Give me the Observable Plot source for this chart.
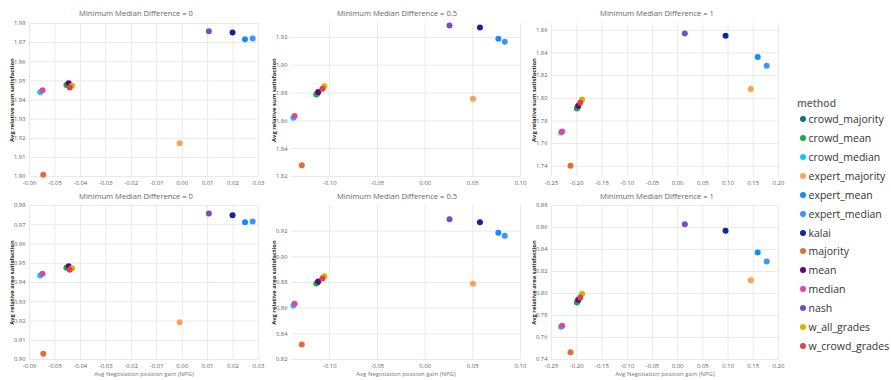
<!DOCTYPE html>
<html><head><meta charset="utf-8">
<script src="https://cdn.jsdelivr.net/npm/d3@7"></script>
<script src="https://cdn.jsdelivr.net/npm/@observablehq/plot@0.6"></script>
<style>
html,body{margin:0;padding:0;background:#fff;}
#chart{position:relative;width:891px;height:380px;font-family:"Open Sans",sans-serif;overflow:hidden;background:#fff;}
#chart svg{position:absolute;}
.ptitle{position:absolute;font-size:7.6px;color:#666;white-space:nowrap;transform:translateX(-50%);line-height:10px;}
g[aria-label="y-axis label"] text, g[aria-label="y-axis label"]{fill:#252423;font-weight:700;}
g[aria-label="x-axis label"] text, g[aria-label="x-axis label"]{fill:#777;}
.legend{position:absolute;left:797px;top:96px;font-family:"Open Sans",sans-serif;}
.legend .ltitle{font-size:10.3px;font-weight:600;color:#666;line-height:14px;height:14px;}
.legend .item{display:flex;align-items:center;height:18.87px;font-size:10.5px;color:#333;white-space:nowrap;}
.legend .sw{width:6px;height:6px;border-radius:50%;margin-left:3px;margin-right:2.5px;flex:none;}
</style></head>
<body>
<div id="chart"></div>
<script>
// ---------- data ----------
const methods = ["crowd_majority","crowd_mean","crowd_median","expert_majority","expert_mean","expert_median","kalai","majority","mean","median","nash","w_all_grades","w_crowd_grades"];
const methodColors = ["#197278","#1AAB40","#15C6F4","#FFA058","#118DFF","#4092FF","#12239E","#E66C37","#6B007B","#E044A7","#744EC2","#D9B300","#D64550"];
const panelTitles = ["Minimum Median Difference = 0","Minimum Median Difference = 0.5","Minimum Median Difference = 1"];
const legendTitle = "method";
const xAxisTitle = "Avg Negotiation position gain (NPG)";
const yAxisTitles = ["Avg relative sum satisfaction","Avg relative area satisfaction"];

// Avg Negotiation position gain per method, by Minimum Median Difference
const npgMMD0  = [-0.0450,-0.0455,-0.0558,-0.0010,0.0247,0.0277,0.0198,-0.0546,-0.0446,-0.0549,0.0105,-0.0433,-0.0442];
const npgMMD05 = [-0.1130,-0.1140,-0.1380,0.0502,0.0768,0.0835,0.0575,-0.1292,-0.1120,-0.1368,0.0256,-0.1056,-0.1076];
const npgMMD1  = [-0.1980,-0.1997,-0.2310,0.1450,0.1588,0.1766,0.0950,-0.2123,-0.1970,-0.2290,0.0143,-0.1893,-0.1930];
// Avg relative sum satisfaction
const sumSatMMD0  = [1.9478,1.9479,1.9441,1.9174,1.9718,1.9722,1.9753,1.9009,1.9488,1.9451,1.9760,1.9474,1.9465];
const sumSatMMD05 = [1.8797,1.8790,1.8623,1.8759,1.9191,1.9169,1.9271,1.8280,1.8807,1.8635,1.9286,1.8848,1.8830];
const sumSatMMD1  = [1.7920,1.7910,1.7698,1.8081,1.8364,1.8288,1.8553,1.7404,1.7934,1.7707,1.8571,1.7990,1.7961];
// Avg relative area satisfaction
const areaSatMMD0  = [0.9478,0.9476,0.9436,0.9194,0.9713,0.9717,0.9750,0.9030,0.9485,0.9445,0.9758,0.9474,0.9466];
const areaSatMMD05 = [0.8799,0.8792,0.8621,0.8790,0.9187,0.9164,0.9270,0.8317,0.8808,0.8634,0.9293,0.8849,0.8831];
const areaSatMMD1  = [0.7930,0.7918,0.7697,0.8121,0.8373,0.8291,0.8570,0.7466,0.7943,0.7706,0.8630,0.7997,0.7964];

// axis domains and tick values
const xDomMMD0 = [-0.06, 0.03],  xTicksMMD0 = [-0.06,-0.05,-0.04,-0.03,-0.02,-0.01,0,0.01,0.02,0.03];
const xDomMMD05 = [-0.14, 0.10], xTicksMMD05 = [-0.10,-0.05,0,0.05,0.10];
const xDomMMD1 = [-0.25, 0.20],  xTicksMMD1 = [-0.25,-0.20,-0.15,-0.10,-0.05,0,0.05,0.10,0.15,0.20];
const yDomSum0 = [1.90, 1.98],   yTicksSum0 = [1.90,1.91,1.92,1.93,1.94,1.95,1.96,1.97,1.98];
const yDomSum05 = [1.82, 1.93],  yTicksSum05 = [1.82,1.84,1.86,1.88,1.90,1.92];
const yDomSum1 = [1.731, 1.866], yTicksSum1 = [1.74,1.76,1.78,1.80,1.82,1.84,1.86];
const yDomArea0 = [0.90, 0.98],  yTicksArea0 = [0.90,0.91,0.92,0.93,0.94,0.95,0.96,0.97,0.98];
const yDomArea05 = [0.82, 0.94], yTicksArea05 = [0.82,0.84,0.86,0.88,0.90,0.92];
const yDomArea1 = [0.74, 0.88],  yTicksArea1 = [0.74,0.76,0.78,0.80,0.82,0.84,0.86,0.88];

// ---------- layout ----------
const chart = document.getElementById("chart");
const plotLeft = [29, 291, 551], plotRight = [258, 520, 778];
const plotTop = [23, 205], plotBottom = [176, 359];
const titleCenterX = [136, 397, 657], titleTopY = [8.3, 190.7];

const cols = [
  {x: npgMMD0, xDom: xDomMMD0, xTicks: xTicksMMD0},
  {x: npgMMD05, xDom: xDomMMD05, xTicks: xTicksMMD05},
  {x: npgMMD1, xDom: xDomMMD1, xTicks: xTicksMMD1}
];
const rowsCfg = [
  [{y: sumSatMMD0, yDom: yDomSum0, yTicks: yTicksSum0},{y: sumSatMMD05, yDom: yDomSum05, yTicks: yTicksSum05},{y: sumSatMMD1, yDom: yDomSum1, yTicks: yTicksSum1}],
  [{y: areaSatMMD0, yDom: yDomArea0, yTicks: yTicksArea0},{y: areaSatMMD05, yDom: yDomArea05, yTicks: yTicksArea05},{y: areaSatMMD1, yDom: yDomArea1, yTicks: yTicksArea1}]
];
const fmt = d => (Math.abs(d) < 1e-9 ? 0 : d).toFixed(2);

for (let r = 0; r < 2; r++) {
  for (let c = 0; c < 3; c++) {
    const cc = cols[c], rc = rowsCfg[r][c];
    const data = methods.map((m, i) => ({method: m, npg: cc.x[i], sat: rc.y[i]}));
    const ml = 29, mr = 6, mt = 4, mb = r ? 21 : 12;
    const L = plotLeft[c], R = plotRight[c], T = plotTop[r], B = plotBottom[r];
    const svg = Plot.plot({
      width: R - L + ml + mr,
      height: B - T + mt + mb,
      marginLeft: ml, marginRight: mr, marginTop: mt, marginBottom: mb,
      style: {background: "transparent", overflow: "visible", color: "#5f5f5f", fontFamily: "Open Sans, sans-serif"},
      x: {domain: cc.xDom},
      y: {domain: rc.yDom},
      color: {domain: methods, range: methodColors},
      marks: [
        Plot.gridX({ticks: cc.xTicks, stroke: "#e9e9e9", strokeOpacity: 1}),
        Plot.gridY({ticks: rc.yTicks, stroke: "#e9e9e9", strokeOpacity: 1}),
        Plot.axisX({ticks: cc.xTicks, tickSize: 0, tickPadding: 4, tickFormat: fmt, fontSize: 6,
          label: r ? xAxisTitle : null, labelAnchor: "center", labelOffset: 16.5, labelArrow: "none"}),
        Plot.axisY({ticks: rc.yTicks, tickSize: 0, tickPadding: 4, tickFormat: fmt, fontSize: 5.8,
          label: yAxisTitles[r], labelAnchor: "center", labelOffset: 20, labelArrow: "none"}),
        Plot.dot(data, {x: "npg", y: "sat", fill: "method", r: 3})
      ]
    });
    svg.style.left = (L - ml) + "px";
    svg.style.top = (T - mt) + "px";
    chart.appendChild(svg);
  }
  for (let c = 0; c < 3; c++) {
    const t = document.createElement("div");
    t.className = "ptitle";
    t.textContent = panelTitles[c];
    t.style.left = titleCenterX[c] + "px";
    t.style.top = titleTopY[r] + "px";
    chart.appendChild(t);
  }
}

// legend
const lg = document.createElement("div");
lg.className = "legend";
const lt = document.createElement("div");
lt.className = "ltitle";
lt.textContent = legendTitle;
lg.appendChild(lt);
methods.forEach((m, i) => {
  const it = document.createElement("div");
  it.className = "item";
  const sw = document.createElement("span");
  sw.className = "sw";
  sw.style.background = methodColors[i];
  const tx = document.createElement("span");
  tx.textContent = m;
  it.appendChild(sw); it.appendChild(tx);
  lg.appendChild(it);
});
chart.appendChild(lg);
</script>
</body></html>
